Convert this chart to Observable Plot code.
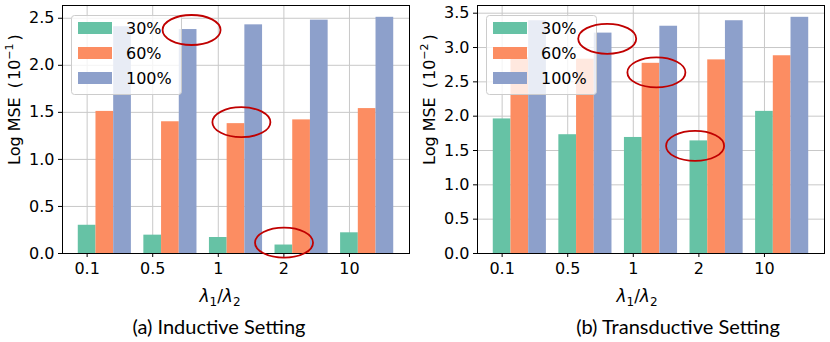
<!DOCTYPE html>
<html><head><meta charset="utf-8">
<script src="https://cdn.jsdelivr.net/npm/d3@7"></script>
<script src="https://cdn.jsdelivr.net/npm/@observablehq/plot@0.6"></script>
<style>
body{margin:0;background:#fff;}
#wrap{position:relative;width:830px;height:342px;overflow:hidden;background:#fff;}
#wrap svg{position:absolute;top:0;}
#wrap svg text{font-family:"DejaVu Sans" !important;}
#wrap svg text.caption{font-family:"Lato" !important;}
</style></head><body><div id="wrap"></div>
<script>
// ---- data ----
const ratios = ["0.1", "0.5", "1", "2", "10"];
const series = ["30%", "60%", "100%"];
const colors = ["#66c2a5", "#fc8d62", "#8da0cb"];

const inductive30  = [0.30, 0.195, 0.17, 0.09, 0.22];
const inductive60  = [1.51, 1.40, 1.38, 1.42, 1.54];
const inductive100 = [2.41, 2.38, 2.43, 2.48, 2.51];

const transductive30  = [1.96, 1.73, 1.69, 1.64, 2.07];
const transductive60  = [2.85, 2.83, 2.77, 2.82, 2.88];
const transductive100 = [3.39, 3.21, 3.31, 3.39, 3.44];

const inductiveYTicks = [0, 0.5, 1.0, 1.5, 2.0, 2.5];
const transductiveYTicks = [0, 0.5, 1.0, 1.5, 2.0, 2.5, 3.0, 3.5];

// highlighted spots (data coordinates)
const inductiveHighlights = [{x: 1.60, y: 2.37}, {x: 2.36, y: 1.39}, {x: 3.01, y: 0.11}];
const transductiveHighlights = [{x: 1.61, y: 3.12}, {x: 2.36, y: 2.63}, {x: 2.95, y: 1.56}];

const captions = ["(a) Inductive Setting", "(b) Transductive Setting"];

// ---- drawing ----
function panel({vals, yTicks, exp, highlights, caption, captionX, xLabelX, left}) {
  const data = [];
  series.forEach((s, k) => vals[k].forEach((v, i) => data.push({i, k, series: s, value: v})));
  const w = 0.27;
  const span = 4 + 3 * w;
  const xDomain = [-w / 2 - 0.05 * span, 4 + 2.5 * w + 0.05 * span];
  const ymax = d3.max(data, d => d.value) * 1.05;
  const mL = 62, mT = 5;
  const svgEl = Plot.plot({
    width: 415, height: 342,
    marginLeft: mL, marginRight: 6, marginTop: mT, marginBottom: 89,
    style: {fontFamily: "DejaVu Sans", fontSize: "16px", background: "transparent", color: "black"},
    x: {domain: xDomain},
    y: {domain: [0, ymax]},
    color: {domain: series, range: colors},
    marks: [
      Plot.gridX([0, 1, 2, 3, 4], {stroke: "#c8c8c8", strokeOpacity: 1, strokeWidth: 1}),
      Plot.gridY(yTicks, {stroke: "#c8c8c8", strokeOpacity: 1, strokeWidth: 1}),
      Plot.rect(data, {x1: d => d.i + (d.k - 0.5) * w, x2: d => d.i + (d.k + 0.5) * w, y1: 0, y2: "value", fill: "series"}),
      Plot.frame({stroke: "black", strokeWidth: 1}),
      Plot.axisX([0, 1, 2, 3, 4], {tickFormat: i => ratios[i], tickSize: 4, tickPadding: 5, fontSize: 16, label: null}),
      Plot.axisY(yTicks, {tickFormat: d3.format(".1f"), tickSize: 4, tickPadding: 4, fontSize: 16, label: null})
    ]
  });
  const svg = d3.select(svgEl).style("left", left + "px");
  const xs = svgEl.scale("x"), ys = svgEl.scale("y");

  // legend
  const g = svg.append("g");
  g.append("rect").attr("x", mL + 9.5).attr("y", mT + 10.5).attr("width", 110).attr("height", 79)
    .attr("rx", 3).attr("fill", "white").attr("fill-opacity", 0.8).attr("stroke", "#cccccc");
  series.forEach((s, k) => {
    g.append("rect").attr("x", mL + 16).attr("y", mT + 17 + 25 * k).attr("width", 34).attr("height", 12).attr("fill", colors[k]);
    g.append("text").attr("x", mL + 64).attr("y", mT + 29 + 25 * k).attr("text-anchor", "start")
      .attr("font-size", 16).attr("fill", "black").text(s);
  });

  // highlight ellipses
  highlights.forEach(h => {
    svg.append("ellipse").attr("cx", xs.apply(h.x)).attr("cy", ys.apply(h.y))
      .attr("rx", 29).attr("ry", 15).attr("fill", "none").attr("stroke", "#c00000").attr("stroke-width", 1.8);
  });

  // y label
  const yl = svg.append("text").attr("transform", "translate(20,165) rotate(-90)")
    .attr("text-anchor", "start").attr("font-size", 16).attr("fill", "black");
  yl.append("tspan").text("Log MSE");
  yl.append("tspan").attr("dx", 9).text("(");
  yl.append("tspan").attr("dx", 2).text("10");
  yl.append("tspan").attr("dy", -7).attr("font-size", 11).text("\u2212" + exp);
  yl.append("tspan").attr("dy", 7).attr("dx", 3).text(")");

  // x label
  const xl = svg.append("text").attr("x", xLabelX).attr("y", 302).attr("text-anchor", "middle")
    .attr("font-size", 17).attr("fill", "black");
  xl.append("tspan").attr("font-style", "italic").text("\u03bb");
  xl.append("tspan").attr("font-size", 12).attr("dy", 4).text("1");
  xl.append("tspan").attr("dy", -4).text("/");
  xl.append("tspan").attr("font-style", "italic").text("\u03bb");
  xl.append("tspan").attr("font-size", 12).attr("dy", 4).text("2");

  // caption
  svg.append("text").attr("class", "caption").attr("x", captionX).attr("y", 334).attr("text-anchor", "middle")
    .attr("font-size", 20).attr("fill", "black").text(caption);

  document.getElementById("wrap").appendChild(svgEl);
}

panel({vals: [inductive30, inductive60, inductive100], yTicks: inductiveYTicks, exp: "1",
  highlights: inductiveHighlights, caption: captions[0], captionX: 219, xLabelX: 220, left: 0});
panel({vals: [transductive30, transductive60, transductive100], yTicks: transductiveYTicks, exp: "2",
  highlights: transductiveHighlights, caption: captions[1], captionX: 263, xLabelX: 222, left: 415});
</script></body></html>
